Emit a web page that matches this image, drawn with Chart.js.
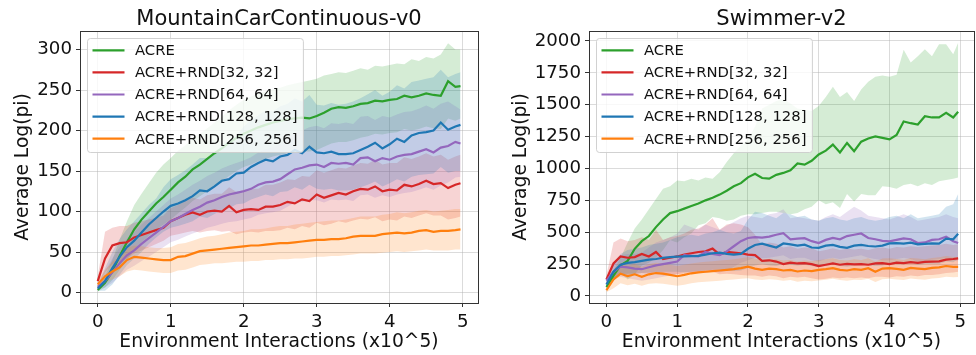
<!DOCTYPE html>
<html>
<head>
<meta charset="utf-8">
<script src="https://cdn.jsdelivr.net/npm/chart.js@4.4.1/dist/chart.umd.min.js"></script>
<style>
  html, body { margin: 0; padding: 0; background: #fff; }
  #wrap { position: relative; width: 976px; height: 355px; }
  canvas { position: absolute; top: 0; }
</style>
</head>
<body>
<div id="wrap">
  <canvas id="mc" width="488" height="355" style="left:0"></canvas>
  <canvas id="sw" width="488" height="355" style="left:488px"></canvas>
</div>
<script>
// x positions (x10^5 environment interactions)
const steps = [0, 0.1, 0.2, 0.3, 0.4, 0.5, 0.6, 0.7, 0.8, 0.9,
  1.0, 1.1, 1.2, 1.3, 1.4, 1.5, 1.6, 1.7, 1.8, 1.9,
  2.0, 2.1, 2.2, 2.3, 2.4, 2.5, 2.6, 2.7, 2.8, 2.9,
  3.0, 3.1, 3.2, 3.3, 3.4, 3.5, 3.6, 3.7, 3.8, 3.9,
  4.0, 4.1, 4.2, 4.3, 4.4, 4.5, 4.6, 4.7, 4.8, 4.9, 4.97];

const seriesNames = ['ACRE', 'ACRE+RND[32, 32]', 'ACRE+RND[64, 64]', 'ACRE+RND[128, 128]', 'ACRE+RND[256, 256]'];
const seriesColors = ['#2ca02c', '#d62728', '#9467bd', '#1f77b4', '#ff7f0e'];
const xTicks = [0, 1, 2, 3, 4, 5];
const mcYTicks = [0, 50, 100, 150, 200, 250, 300];
const swYTicks = [0, 250, 500, 750, 1000, 1250, 1500, 1750, 2000];

// MountainCarContinuous-v0
const mcAcre = [3, 12, 26, 45, 62, 78, 90, 100, 110, 118,
  127, 136, 143, 152, 158, 165, 172, 178, 185, 191,
  196, 200, 204, 207, 210, 212, 214, 215, 216, 215,
  218, 222, 227, 229, 228, 230, 233, 234, 237, 236,
  238, 239, 243, 241, 243, 246, 244, 243, 261, 254, 255];
const mcAcreHi = [5, 20, 40, 65, 88, 108, 122, 135, 148, 158,
  166, 175, 182, 190, 196, 203, 210, 217, 225, 232,
  238, 242, 246, 248, 251, 253, 256, 258, 260, 262,
  264, 268, 270, 272, 271, 274, 277, 275, 280, 279,
  281, 283, 282, 288, 286, 291, 289, 294, 308, 300, 300];
const mcAcreLo = [1, 6, 15, 28, 40, 52, 62, 70, 78, 84,
  90, 98, 105, 113, 119, 125, 132, 138, 144, 150,
  155, 158, 162, 165, 168, 170, 172, 173, 174, 174,
  176, 180, 184, 186, 186, 188, 191, 193, 196, 195,
  197, 198, 202, 200, 202, 205, 203, 202, 215, 212, 215];

const mcRnd32 = [14, 42, 58, 61, 62, 68, 71, 74, 77, 80,
  88, 92, 96, 99, 96, 100, 101, 100, 107, 99,
  102, 103, 102, 106, 106, 108, 112, 110, 115, 113,
  121, 117, 120, 123, 121, 125, 128, 127, 131, 125,
  127, 126, 133, 131, 134, 138, 134, 135, 129, 133, 135];
const mcRnd32Hi = [20, 75, 80, 82, 82, 86, 88, 90, 92, 95,
  104, 108, 113, 117, 115, 120, 122, 122, 130, 124,
  127, 128, 128, 133, 133, 136, 140, 139, 144, 143,
  151, 148, 151, 154, 153, 157, 160, 159, 164, 158,
  160, 160, 167, 165, 168, 172, 168, 170, 164, 168, 170];
const mcRnd32Lo = [8, 25, 35, 38, 42, 48, 52, 56, 60, 64,
  70, 72, 74, 76, 74, 76, 77, 75, 76, 72,
  74, 75, 74, 76, 76, 77, 80, 78, 82, 80,
  86, 83, 85, 88, 86, 89, 91, 90, 93, 88,
  90, 89, 94, 92, 95, 98, 95, 95, 90, 92, 94];

const mcRnd64 = [7, 14, 25, 36, 46, 52, 60, 67, 74, 81,
  88, 92, 97, 102, 106, 111, 114, 118, 121, 123,
  125, 128, 133, 136, 137, 140, 146, 152, 154, 157,
  158, 155, 160, 159, 160, 158, 166, 167, 162, 166,
  164, 168, 170, 171, 174, 177, 173, 179, 181, 186, 184];
const mcRnd64Hi = [10, 26, 42, 56, 66, 74, 84, 92, 100, 108,
  116, 121, 127, 133, 138, 144, 148, 153, 157, 160,
  163, 167, 173, 177, 179, 183, 190, 197, 200, 204,
  206, 203, 209, 208, 210, 208, 217, 218, 213, 218,
  216, 220, 223, 224, 227, 231, 227, 233, 236, 230, 226];
const mcRnd64Lo = [4, 6, 12, 20, 28, 33, 39, 44, 50, 56,
  62, 65, 69, 73, 76, 80, 82, 85, 87, 88,
  90, 92, 96, 98, 99, 101, 106, 111, 112, 114,
  114, 111, 115, 114, 115, 113, 120, 121, 117, 120,
  118, 121, 123, 124, 127, 130, 127, 132, 136, 142, 143];

const mcRnd128 = [5, 14, 30, 44, 56, 64, 74, 84, 92, 100,
  107, 110, 114, 119, 126, 125, 131, 138, 140, 147,
  148, 155, 160, 164, 162, 168, 170, 176, 172, 180,
  173, 172, 174, 171, 171, 172, 176, 180, 185, 178,
  183, 190, 186, 194, 197, 198, 200, 210, 201, 205, 207];
const mcRnd128Hi = [8, 30, 50, 66, 78, 88, 98, 108, 116, 130,
  140, 145, 151, 158, 166, 166, 173, 182, 186, 194,
  205, 213, 219, 225, 224, 230, 233, 240, 236, 244,
  232, 231, 234, 232, 233, 236, 240, 245, 250, 243,
  248, 256, 252, 260, 262, 264, 266, 275, 266, 270, 272];
const mcRnd128Lo = [2, 2, 10, 22, 34, 42, 50, 60, 68, 75,
  80, 82, 85, 88, 94, 92, 97, 102, 104, 109,
  110, 115, 118, 121, 119, 124, 125, 130, 127, 133,
  128, 127, 128, 126, 126, 127, 130, 133, 137, 131,
  135, 140, 137, 143, 145, 146, 147, 155, 148, 150, 150];

const mcRnd256 = [10, 20, 26, 31, 40, 44, 43, 42, 41, 40,
  40, 44, 45, 48, 51, 52, 53, 54, 55, 56,
  57, 58, 58, 59, 60, 61, 61, 62, 63, 64,
  65, 65, 66, 66, 67, 69, 70, 70, 70, 72,
  73, 74, 73, 74, 76, 77, 75, 76, 76, 77, 78];
const mcRnd256Hi = [14, 28, 38, 44, 55, 58, 57, 56, 55, 55,
  56, 60, 61, 64, 67, 69, 70, 72, 74, 75,
  76, 78, 78, 79, 81, 82, 82, 84, 85, 86,
  87, 88, 89, 89, 90, 92, 94, 94, 94, 96,
  97, 99, 98, 99, 101, 102, 100, 101, 102, 103, 103];
const mcRnd256Lo = [6, 12, 16, 20, 26, 28, 27, 26, 25, 24,
  24, 27, 28, 31, 34, 35, 36, 36, 37, 38,
  38, 39, 39, 40, 40, 41, 41, 42, 42, 43,
  44, 44, 45, 45, 46, 47, 48, 48, 48, 49,
  50, 51, 50, 51, 52, 53, 52, 52, 52, 53, 53];

// Swimmer-v2
const swAcre = [70, 160, 240, 275, 370, 430, 470, 540, 600, 650,
  665, 685, 705, 725, 750, 770, 795, 825, 860, 885,
  930, 958, 925, 920, 950, 965, 985, 1040, 1030, 1060,
  1110, 1140, 1187, 1125, 1200, 1135, 1210, 1235, 1252, 1240,
  1228, 1262, 1368, 1355, 1345, 1410, 1400, 1400, 1436, 1400, 1445];
const swAcreHi = [80, 200, 300, 420, 530, 600, 680, 760, 840, 860,
  905, 900, 920, 905, 930, 920, 970, 1050, 1120, 1180,
  1230, 1330, 1470, 1500, 1530, 1545, 1510, 1470, 1460, 1450,
  1490, 1560, 1640, 1560, 1600, 1530, 1620, 1680, 1720, 1730,
  1720, 1735, 1930, 1830, 1880, 1935, 1880, 1975, 1975, 1895, 1985];
const swAcreLo = [60, 120, 180, 130, 170, 240, 260, 300, 360, 440,
  420, 460, 490, 555, 570, 620, 610, 590, 600, 630,
  640, 640, 650, 660, 660, 650, 640, 650, 680, 700,
  750, 720, 735, 690, 800, 740, 800, 790, 790, 860,
  855, 840, 870, 880, 860, 885, 870, 900, 910, 920, 930];

const swRnd32 = [130, 255, 310, 300, 305, 330, 310, 345, 290, 300,
  310, 325, 335, 345, 350, 372, 325, 345, 340, 335,
  325, 320, 275, 280, 270, 250, 262, 255, 258, 250,
  235, 245, 255, 245, 252, 248, 250, 245, 255, 258,
  250, 262, 258, 265, 260, 268, 270, 272, 285, 290, 295];
const swRnd32Hi = [160, 420, 450, 430, 440, 460, 440, 520, 440, 460,
  470, 490, 520, 530, 560, 610, 520, 560, 570, 560,
  540, 480, 400, 420, 410, 380, 390, 370, 380, 375,
  350, 360, 375, 360, 370, 365, 370, 360, 375, 380,
  370, 385, 380, 390, 385, 390, 395, 400, 410, 400, 405];
const swRnd32Lo = [100, 120, 170, 165, 170, 180, 175, 190, 160, 165,
  170, 175, 180, 185, 180, 190, 170, 175, 170, 165,
  160, 160, 150, 160, 155, 140, 150, 145, 150, 140,
  130, 135, 145, 140, 145, 140, 145, 140, 150, 150,
  145, 155, 150, 160, 155, 165, 165, 170, 180, 185, 190];

const swRnd64 = [120, 190, 230, 225, 215, 210, 225, 240, 250, 260,
  270, 320, 315, 310, 345, 330, 320, 350, 390, 430,
  455, 462, 458, 466, 480, 492, 445, 450, 453, 430,
  415, 440, 455, 445, 470, 480, 490, 455, 445, 432,
  428, 440, 452, 445, 415, 420, 440, 445, 465, 430, 415];
const swRnd64Hi = [140, 260, 320, 330, 330, 340, 380, 420, 440, 460,
  490, 560, 540, 520, 560, 540, 520, 550, 580, 610,
  630, 620, 610, 640, 650, 680, 610, 620, 610, 600,
  590, 620, 640, 620, 660, 700, 670, 630, 620, 610,
  600, 620, 640, 620, 590, 600, 610, 620, 640, 620, 610];
const swRnd64Lo = [100, 130, 150, 140, 130, 120, 130, 140, 150, 160,
  170, 190, 185, 180, 200, 195, 185, 200, 230, 260,
  280, 300, 295, 300, 310, 320, 290, 300, 300, 280,
  270, 290, 300, 290, 300, 310, 320, 300, 290, 280,
  280, 290, 300, 290, 270, 275, 285, 290, 300, 280, 270];

const swRnd128 = [90, 190, 245, 260, 265, 275, 285, 290, 300, 305,
  308, 310, 312, 315, 325, 335, 340, 330, 325, 330,
  370, 400, 410, 395, 380, 412, 405, 395, 402, 380,
  378, 395, 400, 385, 378, 395, 400, 392, 388, 395,
  412, 415, 410, 418, 405, 408, 412, 410, 450, 445, 488];
const swRnd128Hi = [110, 260, 330, 360, 370, 380, 400, 410, 420, 440,
  460, 470, 480, 470, 490, 500, 520, 500, 490, 510,
  600, 660, 650, 630, 610, 650, 640, 620, 630, 600,
  590, 610, 620, 600, 590, 610, 620, 600, 590, 600,
  620, 630, 610, 640, 610, 620, 630, 640, 700, 720, 800];
const swRnd128Lo = [70, 130, 170, 175, 175, 180, 185, 185, 190, 190,
  190, 185, 190, 195, 200, 205, 205, 200, 195, 200,
  220, 240, 250, 240, 235, 250, 245, 240, 245, 235,
  230, 240, 245, 235, 230, 240, 245, 240, 235, 240,
  250, 255, 250, 255, 245, 250, 250, 250, 270, 265, 290];

const swRnd256 = [45, 130, 175, 155, 170, 150, 170, 180, 175, 165,
  155, 165, 178, 185, 190, 195, 200, 205, 210, 218,
  230, 215, 205, 215, 210, 200, 205, 192, 200, 195,
  205, 210, 218, 205, 200, 210, 205, 218, 190, 215,
  218, 212, 205, 220, 215, 210, 220, 225, 235, 228, 228];
const swRnd256Hi = [60, 210, 260, 240, 250, 230, 250, 260, 255, 245,
  235, 245, 255, 262, 268, 272, 278, 282, 288, 295,
  305, 292, 283, 292, 288, 278, 283, 270, 278, 273,
  283, 288, 296, 283, 278, 288, 283, 296, 268, 293,
  296, 290, 283, 298, 293, 288, 298, 303, 313, 306, 305];
const swRnd256Lo = [30, 60, 100, 85, 95, 80, 95, 100, 95, 88,
  80, 88, 100, 108, 112, 116, 120, 125, 130, 135,
  140, 130, 125, 132, 128, 120, 125, 112, 120, 115,
  122, 128, 135, 125, 120, 128, 125, 135, 110, 132,
  135, 130, 125, 138, 132, 128, 138, 142, 150, 146, 148];

const FONT = '"DejaVu Sans", "Liberation Sans", sans-serif';

const pts = arr => arr.map((y, k) => ({ x: steps[k], y }));

const withAlpha = (hex, a) => {
  const n = parseInt(hex.slice(1), 16);
  return `rgba(${(n >> 16) & 255}, ${(n >> 8) & 255}, ${n & 255}, ${a})`;
};

function buildDatasets(means, highs, lows) {
  const ds = [];
  means.forEach((m, i) => {
    const c = seriesColors[i];
    const hiIndex = ds.length;
    ds.push({
      label: '', data: pts(highs[i]), borderColor: 'rgba(0,0,0,0)', borderWidth: 0,
      pointRadius: 0, fill: false, order: 20 - i, band: true
    });
    ds.push({
      label: '', data: pts(lows[i]), borderColor: 'rgba(0,0,0,0)', borderWidth: 0,
      pointRadius: 0, fill: hiIndex, backgroundColor: withAlpha(c, 0.2), order: 20 - i, band: true
    });
    ds.push({
      label: seriesNames[i], data: pts(m), borderColor: c, borderWidth: 2.2,
      pointRadius: 0, fill: false, order: 4 - i, tension: 0
    });
  });
  return ds;
}

// frame, title and in-axes legend, matplotlib style
const panelPlugin = {
  id: 'panel',
  afterDraw(chart, args, opts) {
    const { ctx, chartArea: a } = chart;
    ctx.save();

    ctx.strokeStyle = '#333';
    ctx.lineWidth = 1;
    ctx.strokeRect(Math.round(a.left) + 0.5, Math.round(a.top) + 0.5,
      Math.round(a.right - a.left), Math.round(a.bottom - a.top));

    ctx.fillStyle = '#111';
    ctx.font = `21px ${FONT}`;
    ctx.textAlign = 'center';
    ctx.textBaseline = 'alphabetic';
    ctx.fillText(opts.title, (a.left + a.right) / 2, 24.5);

    const lines = chart.data.datasets.filter(d => !d.band);
    ctx.font = `14.8px ${FONT}`;
    const textW = Math.max(...lines.map(d => ctx.measureText(d.label).width));
    const bx = a.left + 7.5, by = a.top + 7.5;
    const bw = 47.5 + textW + 6, bh = 114;
    ctx.beginPath();
    ctx.roundRect(bx, by, bw, bh, 3);
    ctx.fillStyle = 'rgba(255,255,255,0.8)';
    ctx.fill();
    ctx.strokeStyle = 'rgba(204,204,204,0.9)';
    ctx.stroke();

    ctx.textAlign = 'left';
    ctx.textBaseline = 'middle';
    lines.forEach((d, i) => {
      const y = by + 11.8 + i * 22.1;
      ctx.strokeStyle = d.borderColor;
      ctx.lineWidth = 2.2;
      ctx.beginPath();
      ctx.moveTo(bx + 5, y);
      ctx.lineTo(bx + 37, y);
      ctx.stroke();
      ctx.fillStyle = '#111';
      ctx.fillText(d.label, bx + 47.5, y + 1);
    });
    ctx.restore();
  }
};

function makeChart(id, cfg) {
  const gridColor = 'rgba(176,176,176,0.45)';
  return new Chart(document.getElementById(id), {
    type: 'line',
    data: { datasets: buildDatasets(cfg.means, cfg.highs, cfg.lows) },
    plugins: [panelPlugin],
    options: {
      responsive: false,
      animation: false,
      events: [],
      layout: { padding: { top: 31, right: cfg.padRight, bottom: 0, left: 0 } },
      plugins: {
        legend: { display: false },
        tooltip: { enabled: false },
        title: { display: false },
        panel: { title: cfg.title }
      },
      scales: {
        x: {
          type: 'linear',
          min: cfg.xMin,
          max: cfg.xMax,
          afterBuildTicks: axis => { axis.ticks = xTicks.map(v => ({ value: v })); },
          afterFit: axis => { axis.height = 52; },
          grid: { color: gridColor, tickColor: '#333', tickLength: 4, tickWidth: 1 },
          border: { display: false },
          ticks: { color: '#111', font: { family: FONT, size: 18.2 }, padding: 4, maxRotation: 0,
            callback: v => String(v) },
          title: {
            display: true,
            text: 'Environment Interactions (x10^5)',
            color: '#111',
            font: { family: FONT, size: 18.7 },
            padding: { top: 0, bottom: 2 }
          }
        },
        y: {
          type: 'linear',
          min: cfg.yMin,
          max: cfg.yMax,
          afterBuildTicks: axis => { axis.ticks = cfg.yTicks.map(v => ({ value: v })); },
          afterFit: axis => { axis.width = cfg.yWidth; },
          grid: { color: gridColor, tickColor: '#333', tickLength: 4, tickWidth: 1 },
          border: { display: false },
          ticks: { color: '#111', font: { family: FONT, size: 18.2 }, padding: 4,
            callback: v => String(v) },
          title: {
            display: true,
            text: 'Average Log(pi)',
            color: '#111',
            font: { family: FONT, size: 18.7 },
            padding: { top: cfg.yTitlePad, bottom: 0 }
          }
        }
      }
    }
  });
}

makeChart('mc', {
  title: 'MountainCarContinuous-v0',
  means: [mcAcre, mcRnd32, mcRnd64, mcRnd128, mcRnd256],
  highs: [mcAcreHi, mcRnd32Hi, mcRnd64Hi, mcRnd128Hi, mcRnd256Hi],
  lows: [mcAcreLo, mcRnd32Lo, mcRnd64Lo, mcRnd128Lo, mcRnd256Lo],
  yTicks: mcYTicks,
  xMin: -0.243, xMax: 5.21,
  yMin: -13, yMax: 323,
  yWidth: 80, yTitlePad: 12, padRight: 10
});

makeChart('sw', {
  title: 'Swimmer-v2',
  means: [swAcre, swRnd32, swRnd64, swRnd128, swRnd256],
  highs: [swAcreHi, swRnd32Hi, swRnd64Hi, swRnd128Hi, swRnd256Hi],
  lows: [swAcreLo, swRnd32Lo, swRnd64Lo, swRnd128Lo, swRnd256Lo],
  yTicks: swYTicks,
  xMin: -0.246, xMax: 5.194,
  yMin: -55, yMax: 2078,
  yWidth: 101, yTitlePad: 21.5, padRight: 2
});
</script>
</body>
</html>
